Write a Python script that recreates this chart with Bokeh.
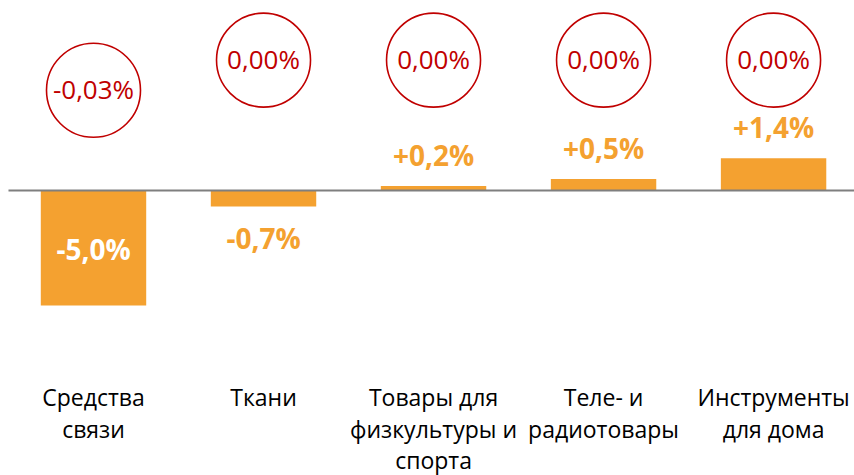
from bokeh.plotting import figure
from bokeh.models import Range1d, ColumnDataSource
from bokeh.core.properties import value
from bokeh.embed import file_html
from bokeh.resources import INLINE

# ---- data ----
categories = ["Средства\nсвязи", "Ткани", "Товары для\nфизкультуры и\nспорта",
              "Теле- и\nрадиотовары", "Инструменты\nдля дома"]
changes = [-5.0, -0.7, 0.2, 0.5, 1.4]          # bar values, %
circle_values = [-0.03, 0.00, 0.00, 0.00, 0.00]  # values in red circles, %

# ---- styles ----
ORANGE = "#F4A130"
RED = "#C00000"
GREY = "#7F7F7F"
FONT = "Open Sans"

def fmt_bar(v):
    return f"{v:+.1f}%".replace(".", ",")

def fmt_circle(v):
    return f"{v:.2f}%".replace(".", ",")

xs = list(range(len(categories)))

p = figure(width=854, height=475, output_backend="svg", toolbar_location=None,
           x_range=Range1d(-0.547, 4.476), y_range=Range1d(-12.39, 8.26),
           min_border=0, outline_line_color=None)
p.axis.visible = False
p.grid.visible = False
p.background_fill_color = "white"
p.border_fill_color = "white"

# bars
p.vbar(x=xs, top=changes, bottom=0, width=0.62, fill_color=ORANGE, line_color=None)

# zero line
p.line(x=[-0.5, 4.476], y=[0, 0], line_color=GREY, line_width=2)

# bar value labels
inside = [abs(v) >= 2 for v in changes]
lab_src = ColumnDataSource(dict(
    x=xs,
    y=[v / 2 if ins else v for v, ins in zip(changes, inside)],
    text=[fmt_bar(v) for v in changes],
    color=["white" if ins else ORANGE for ins in inside],
    yoff=[1 if ins else (31 if v < 0 else -31) for v, ins in zip(changes, inside)],
))
p.text(x="x", y="y", text="text", source=lab_src, text_color="color",
       y_offset="yoff", text_align="center", text_baseline="alphabetic",
       text_font=value(FONT), text_font_style="bold", text_font_size="28px")

# red circles with values
circle_y = [4.36 if v < 0 else 5.67 for v in circle_values]
p.scatter(x=xs, y=circle_y, size=94, marker="circle", fill_color="white",
          line_color=RED, line_width=1.6)
p.text(x=xs, y=circle_y, text=[fmt_circle(v) for v in circle_values],
       text_color=RED, text_align="center", text_baseline="alphabetic",
       y_offset=-1, text_font=value(FONT), text_font_size="26px")

# category labels, line by line
lx, ly, lt, lo = [], [], [], []
for i, c in enumerate(categories):
    for j, line in enumerate(c.split("\n")):
        lx.append(i); ly.append(-8.98); lt.append(line); lo.append(j * 31.5)
p.text(x=lx, y=ly, text=lt, y_offset=lo, text_color="black",
       text_align="center", text_baseline="alphabetic",
       text_font=value(FONT), text_font_size="23px")

open("out.html", "w").write(file_html(p, INLINE))
